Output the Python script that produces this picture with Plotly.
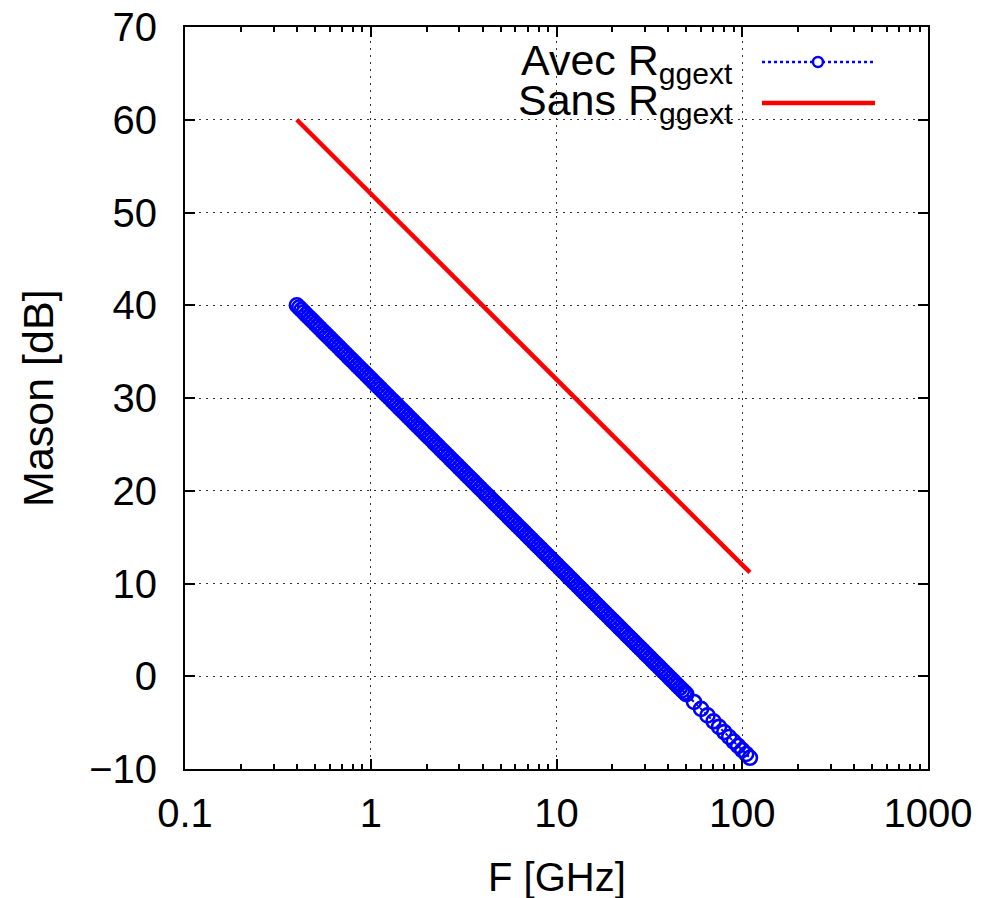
import plotly.graph_objects as go

# ---- data ----
avec_freq_ghz = [
    0.4000, 0.4117, 0.4237, 0.4361, 0.4488, 0.4619, 0.4754, 0.4893,
    0.5036, 0.5183, 0.5334, 0.5490, 0.5650, 0.5815, 0.5985, 0.6160,
    0.6340, 0.6525, 0.6715, 0.6911, 0.7113, 0.7321, 0.7534, 0.7755,
    0.7981, 0.8214, 0.8454, 0.8701, 0.8955, 0.9216, 0.9486, 0.9762,
    1.0048, 1.0341, 1.0643, 1.0954, 1.1274, 1.1603, 1.1942, 1.2290,
    1.2649, 1.3018, 1.3399, 1.3790, 1.4192, 1.4607, 1.5034, 1.5472,
    1.5924, 1.6389, 1.6868, 1.7360, 1.7867, 1.8389, 1.8926, 1.9479,
    2.0048, 2.0633, 2.1235, 2.1855, 2.2494, 2.3150, 2.3826, 2.4522,
    2.5238, 2.5975, 2.6734, 2.7514, 2.8318, 2.9145, 2.9996, 3.0872,
    3.1773, 3.2701, 3.3656, 3.4639, 3.5650, 3.6691, 3.7762, 3.8865,
    4.000, 4.117, 4.237, 4.361, 4.488, 4.619, 4.754, 4.893,
    5.036, 5.183, 5.334, 5.490, 5.650, 5.815, 5.985, 6.160,
    6.340, 6.525, 6.715, 6.911, 7.113, 7.321, 7.534, 7.755,
    7.981, 8.214, 8.454, 8.701, 8.955, 9.216, 9.486, 9.762,
    10.048, 10.341, 10.643, 10.954, 11.274, 11.603, 11.942, 12.290,
    12.649, 13.018, 13.399, 13.790, 14.192, 14.607, 15.034, 15.472,
    15.924, 16.389, 16.868, 17.360, 17.867, 18.389, 18.926, 19.479,
    20.048, 20.633, 21.235, 21.855, 22.494, 23.150, 23.826, 24.522,
    25.238, 25.975, 26.734, 27.514, 28.318, 29.145, 29.996, 30.872,
    31.773, 32.701, 33.656, 34.639, 35.650, 36.691, 37.762, 38.865,
    40.00, 41.17, 42.37, 43.61, 44.88, 46.19, 47.54, 48.93,
    50.0, 55.0, 60.0, 65.0, 70.0, 75.0, 80.0, 85.0, 90.0, 95.0, 100.0, 105.0, 110.0,
]
avec_mason_db = [
    40.0, 39.75, 39.5, 39.25, 39.0, 38.75, 38.5, 38.25,
    38.0, 37.75, 37.5, 37.25, 37.0, 36.75, 36.5, 36.25,
    36.0, 35.75, 35.5, 35.25, 35.0, 34.75, 34.5, 34.25,
    34.0, 33.75, 33.5, 33.25, 33.0, 32.75, 32.5, 32.25,
    32.0, 31.75, 31.5, 31.25, 31.0, 30.75, 30.5, 30.25,
    30.0, 29.75, 29.5, 29.25, 29.0, 28.75, 28.5, 28.25,
    28.0, 27.75, 27.5, 27.25, 27.0, 26.75, 26.5, 26.25,
    26.0, 25.75, 25.5, 25.25, 25.0, 24.75, 24.5, 24.25,
    24.0, 23.75, 23.5, 23.25, 23.0, 22.75, 22.5, 22.25,
    22.0, 21.75, 21.5, 21.25, 21.0, 20.75, 20.5, 20.25,
    20.0, 19.75, 19.5, 19.25, 19.0, 18.75, 18.5, 18.25,
    18.0, 17.75, 17.5, 17.25, 17.0, 16.75, 16.5, 16.25,
    16.0, 15.75, 15.5, 15.25, 15.0, 14.75, 14.5, 14.25,
    14.0, 13.75, 13.5, 13.25, 13.0, 12.75, 12.5, 12.25,
    12.0, 11.75, 11.5, 11.25, 11.0, 10.75, 10.5, 10.25,
    10.0, 9.75, 9.5, 9.25, 9.0, 8.75, 8.5, 8.25,
    8.0, 7.75, 7.5, 7.25, 7.0, 6.75, 6.5, 6.25,
    6.0, 5.75, 5.5, 5.25, 5.0, 4.75, 4.5, 4.25,
    4.0, 3.75, 3.5, 3.25, 3.0, 2.75, 2.5, 2.25,
    2.0, 1.75, 1.5, 1.25, 1.0, 0.75, 0.5, 0.25,
    0.0, -0.25, -0.5, -0.75, -1.0, -1.25, -1.5, -1.75,
    -1.94, -2.77, -3.52, -4.22, -4.86, -5.46, -6.02, -6.55, -7.04, -7.51, -7.96, -8.38, -8.79,
]
sans_freq_ghz = [0.4, 1.0, 10.0, 100.0, 110.0]
sans_mason_db = [60.0, 52.0, 32.0, 12.0, 11.2]

x_major_ticks = [0.1, 1, 10, 100, 1000]
x_tick_labels = ["0.1", "1", "10", "100", "1000"]
x_minor_ticks = [m * d for d in (0.1, 1, 10, 100) for m in range(2, 10)]
y_ticks = [-10, 0, 10, 20, 30, 40, 50, 60, 70]
y_tick_labels = ["\u221210", "0", "10", "20", "30", "40", "50", "60", "70"]

legend_labels = ["Avec R<sub>ggext</sub>", "Sans R<sub>ggext</sub>"]
x_title = "F [GHz]"
y_title = "Mason [dB]"

BLUE = "#0000ff"
RED = "#ff0000"
FONT = "Liberation Sans, Arial, Helvetica, sans-serif"
FS = 40

fig = go.Figure()
fig.add_trace(go.Scatter(
    x=avec_freq_ghz, y=avec_mason_db, mode="lines+markers",
    line=dict(color=BLUE, width=2, dash="dot"),
    marker=dict(symbol="circle-open", size=14, color=BLUE, line=dict(width=2.6, color=BLUE)),
    showlegend=False, name="Avec Rggext",
))
fig.add_trace(go.Scatter(
    x=sans_freq_ghz, y=sans_mason_db, mode="lines",
    line=dict(color=RED, width=4.5),
    showlegend=False, name="Sans Rggext",
))

axis_common = dict(
    showline=True, linecolor="black", linewidth=2, mirror="allticks",
    ticks="inside", ticklen=10, tickwidth=1.5, tickcolor="black",
    showgrid=True, gridcolor="#333333", gridwidth=1.2, griddash="2px,5px",
    zeroline=False, automargin=False,
    tickfont=dict(family=FONT, size=FS, color="black"),
)

fig.update_xaxes(
    type="log", range=[-1, 3],
    tickmode="array", tickvals=x_major_ticks, ticktext=x_tick_labels,
    minor=dict(tickmode="array", tickvals=x_minor_ticks, ticks="inside", ticklen=5,
               tickwidth=1.5, tickcolor="black", showgrid=False),
    ticklabelstandoff=8,
    **axis_common,
)
fig.update_yaxes(
    range=[-10, 70],
    tickmode="array", tickvals=y_ticks, ticktext=y_tick_labels,
    ticklabelstandoff=18,
    **axis_common,
)

# axis titles
fig.add_annotation(text=y_title, x=-0.198, y=0.5, xref="paper", yref="paper",
                   xanchor="center", yanchor="middle", textangle=-90, showarrow=False,
                   font=dict(family=FONT, size=43, color="black"))
fig.add_annotation(text=x_title, x=0.5, y=-0.146, xref="paper", yref="paper",
                   xanchor="center", yanchor="middle", showarrow=False,
                   font=dict(family=FONT, size=FS, color="black"))

# gnuplot-style key (text right-aligned, sample on the right)
key_y = [0.9528, 0.8976]
key_text_y = [0.952, 0.897]
key_x0, key_x1, key_xm = 0.7766, 0.9287, 0.8519
for lbl, ky in zip(legend_labels, key_text_y):
    fig.add_annotation(text=lbl, x=0.7402, y=ky, xref="paper", yref="paper",
                       xanchor="right", yanchor="middle", showarrow=False,
                       font=dict(family=FONT, size=43, color="black"))
fig.add_shape(type="line", xref="paper", yref="paper", x0=key_x0, x1=key_x1,
              y0=key_y[0], y1=key_y[0], line=dict(color=BLUE, width=2.5, dash="dot"))
fig.add_shape(type="circle", xref="paper", yref="paper",
              x0=key_xm - 0.0067, x1=key_xm + 0.0067,
              y0=key_y[0] - 0.0067, y1=key_y[0] + 0.0067,
              line=dict(color=BLUE, width=2.5), fillcolor="white")
fig.add_shape(type="line", xref="paper", yref="paper", x0=key_x0, x1=key_x1,
              y0=key_y[1], y1=key_y[1], line=dict(color=RED, width=4.5))

fig.update_layout(
    width=985, height=898,
    margin=dict(l=185, r=57, t=27, b=129),
    paper_bgcolor="white", plot_bgcolor="white",
    font=dict(family=FONT, size=FS, color="black"),
)

fig.write_html("out.html", config={"displayModeBar": False},
               post_script="document.body.style.margin='0';")
